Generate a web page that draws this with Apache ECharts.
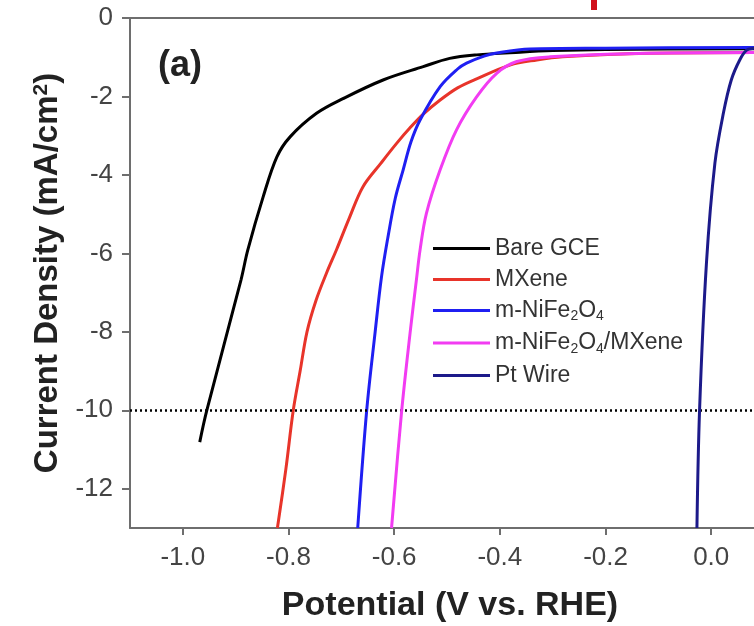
<!DOCTYPE html>
<html>
<head>
<meta charset="utf-8">
<script src="https://cdn.jsdelivr.net/npm/echarts@6/dist/echarts.min.js"></script>
<style>
  html, body { margin: 0; padding: 0; background: #fff; }
  #chart { width: 754px; height: 626px; }
</style>
</head>
<body>
<div id="chart"></div>
<script>
// LSV curves, [potential (V vs RHE), current density (mA/cm2)]
var bareGce = [
    [-0.968, -10.81], [-0.955, -10.02], [-0.890, -6.68], [-0.877, -5.91],
    [-0.848, -4.56], [-0.822, -3.54], [-0.797, -3.03], [-0.747, -2.43],
    [-0.696, -2.05], [-0.621, -1.58], [-0.545, -1.24], [-0.495, -1.03],
    [-0.444, -0.94], [-0.362, -0.87], [-0.30, -0.83], [-0.20, -0.80], [0.10, -0.78]
];
var mxene = [
    [-0.821, -13.0], [-0.805, -11.5], [-0.791, -10.0], [-0.778, -9.0],
    [-0.765, -8.0], [-0.748, -7.2], [-0.728, -6.5], [-0.709, -5.9],
    [-0.685, -5.1], [-0.659, -4.3], [-0.625, -3.7], [-0.595, -3.19],
    [-0.570, -2.80], [-0.545, -2.45], [-0.513, -2.09], [-0.480, -1.78],
    [-0.444, -1.55], [-0.381, -1.20], [-0.330, -1.07], [-0.281, -0.99],
    [-0.116, -0.90], [0.10, -0.88]
];
var niFe2O4 = [
    [-0.669, -13.0], [-0.652, -10.0], [-0.636, -8.0], [-0.624, -6.6],
    [-0.612, -5.6], [-0.598, -4.6], [-0.583, -3.87], [-0.568, -3.15],
    [-0.551, -2.60], [-0.513, -1.75], [-0.480, -1.30], [-0.463, -1.15],
    [-0.430, -0.97], [-0.406, -0.89], [-0.343, -0.79], [-0.20, -0.77], [0.10, -0.75]
];
var niFe2O4Mxene = [
    [-0.605, -13.0], [-0.586, -10.04], [-0.570, -8.04], [-0.558, -6.68],
    [-0.551, -5.91], [-0.539, -4.98], [-0.513, -3.87], [-0.482, -2.85],
    [-0.444, -2.01], [-0.406, -1.41], [-0.368, -1.11], [-0.305, -0.99],
    [-0.116, -0.90], [0.10, -0.88]
];
var ptWire = [
    [-0.027, -13.0], [-0.022, -9.99], [-0.009, -6.25], [0.007, -3.70],
    [0.023, -2.43], [0.038, -1.58], [0.054, -1.07], [0.067, -0.82],
    [0.081, -0.77], [0.10, -0.75]
];
var seriesNames = ['Bare GCE', 'MXene', 'm-NiFe2O4', 'm-NiFe2O4/MXene', 'Pt Wire'];
var seriesColors = ['#000000', '#e8342a', '#1f1ff2', '#f23cf2', '#1c1a8a'];
var xTicks = [-1.0, -0.8, -0.6, -0.4, -0.2, 0.0];
var yTicks = [0, -2, -4, -6, -8, -10, -12];
var refLine = -10;

var font = 'Liberation Sans, Arial, sans-serif';
var axisGray = '#6e6e6e';
var xMin = -1.1, xMax = 0.081;

var chart = echarts.init(document.getElementById('chart'));

// 图例里的下标
var legendLabels = {
    'Bare GCE': '{n|Bare GCE}',
    'MXene': '{n|MXene}',
    'm-NiFe2O4': '{n|m-NiFe}{s|2}{n|O}{s|4}',
    'm-NiFe2O4/MXene': '{n|m-NiFe}{s|2}{n|O}{s|4}{n|/MXene}',
    'Pt Wire': '{n|Pt Wire}'
};

var allData = [bareGce, mxene, niFe2O4, niFe2O4Mxene, ptWire];
var series = allData.map(function (d, i) {
    var s = {
        name: seriesNames[i],
        type: 'line',
        data: d,
        showSymbol: false,
        smooth: 0.35,
        color: seriesColors[i],
        lineStyle: { width: 3, color: seriesColors[i] },
        z: 2 + i
    };
    if (i === 0) {
        s.markLine = {
            silent: true,
            symbol: 'none',
            label: { show: false },
            lineStyle: { color: '#000', type: [2, 3], width: 2.5 },
            data: [{ yAxis: refLine }]
        };
    }
    return s;
});

var option = {
    backgroundColor: '#fff',
    animation: false,
    grid: {
        left: 130,
        top: 18,
        right: 0,
        bottom: 98,
        outerBoundsMode: 'none'
    },
    legend: {
        orient: 'vertical',
        left: 433,
        top: 237,
        padding: 0,
        itemGap: 8,
        itemWidth: 57,
        itemHeight: 3,
        icon: 'rect',
        data: seriesNames,
        formatter: function (name) {
            return legendLabels[name];
        },
        textStyle: {
            rich: {
                n: { fontSize: 23, lineHeight: 26, color: '#333', fontFamily: font },
                s: { fontSize: 14, lineHeight: 12, verticalAlign: 'bottom', color: '#333', fontFamily: font }
            }
        }
    },
    xAxis: [{
        type: 'value',
        min: xMin,
        max: xMax,
        axisLine: { onZero: false, lineStyle: { color: axisGray, width: 2 } },
        axisTick: { show: true, length: 7, inside: false, customValues: xTicks, lineStyle: { color: axisGray, width: 2 } },
        axisLabel: {
            customValues: xTicks,
            margin: 17,
            fontSize: 26,
            color: '#444',
            fontFamily: font,
            formatter: function (v) { return v.toFixed(1); }
        },
        splitLine: { show: false }
    }, {
        // 上边框
        type: 'value',
        position: 'top',
        min: xMin,
        max: xMax,
        axisLine: { show: true, onZero: false, lineStyle: { color: axisGray, width: 2 } },
        axisTick: { show: false },
        axisLabel: { show: false },
        splitLine: { show: false }
    }],
    yAxis: {
        type: 'value',
        min: -13,
        max: 0,
        name: 'Current Density (mA/cm{sup|2})',
        nameLocation: 'middle',
        nameGap: 66,
        nameTextStyle: {
            fontSize: 33, fontWeight: 'bold', color: '#222', fontFamily: font,
            rich: {
                sup: { fontSize: 21, fontWeight: 'bold', verticalAlign: 'top', color: '#222', fontFamily: font }
            }
        },
        axisLine: { show: true, onZero: false, lineStyle: { color: axisGray, width: 2 } },
        axisTick: { show: true, length: 8, inside: false, customValues: yTicks, lineStyle: { color: axisGray, width: 2 } },
        axisLabel: {
            customValues: yTicks,
            margin: 17,
            fontSize: 26,
            color: '#444',
            fontFamily: font
        },
        splitLine: { show: false }
    },
    graphic: [
        {
            type: 'text',
            left: 158,
            top: 48,
            style: { text: '(a)', fontSize: 36, fontWeight: 'bold', fill: '#222', fontFamily: font }
        },
        {
            // x轴标题
            type: 'text',
            x: 450,
            y: 606,
            style: {
                text: 'Potential (V vs. RHE)', fontSize: 34, fontWeight: 'bold', fill: '#222',
                fontFamily: font, align: 'center', verticalAlign: 'middle'
            }
        },
        {
            type: 'rect',
            shape: { x: 591, y: 0, width: 6, height: 10 },
            style: { fill: '#d0101b' }
        }
    ],
    series: series
};

chart.setOption(option);
</script>
</body>
</html>
